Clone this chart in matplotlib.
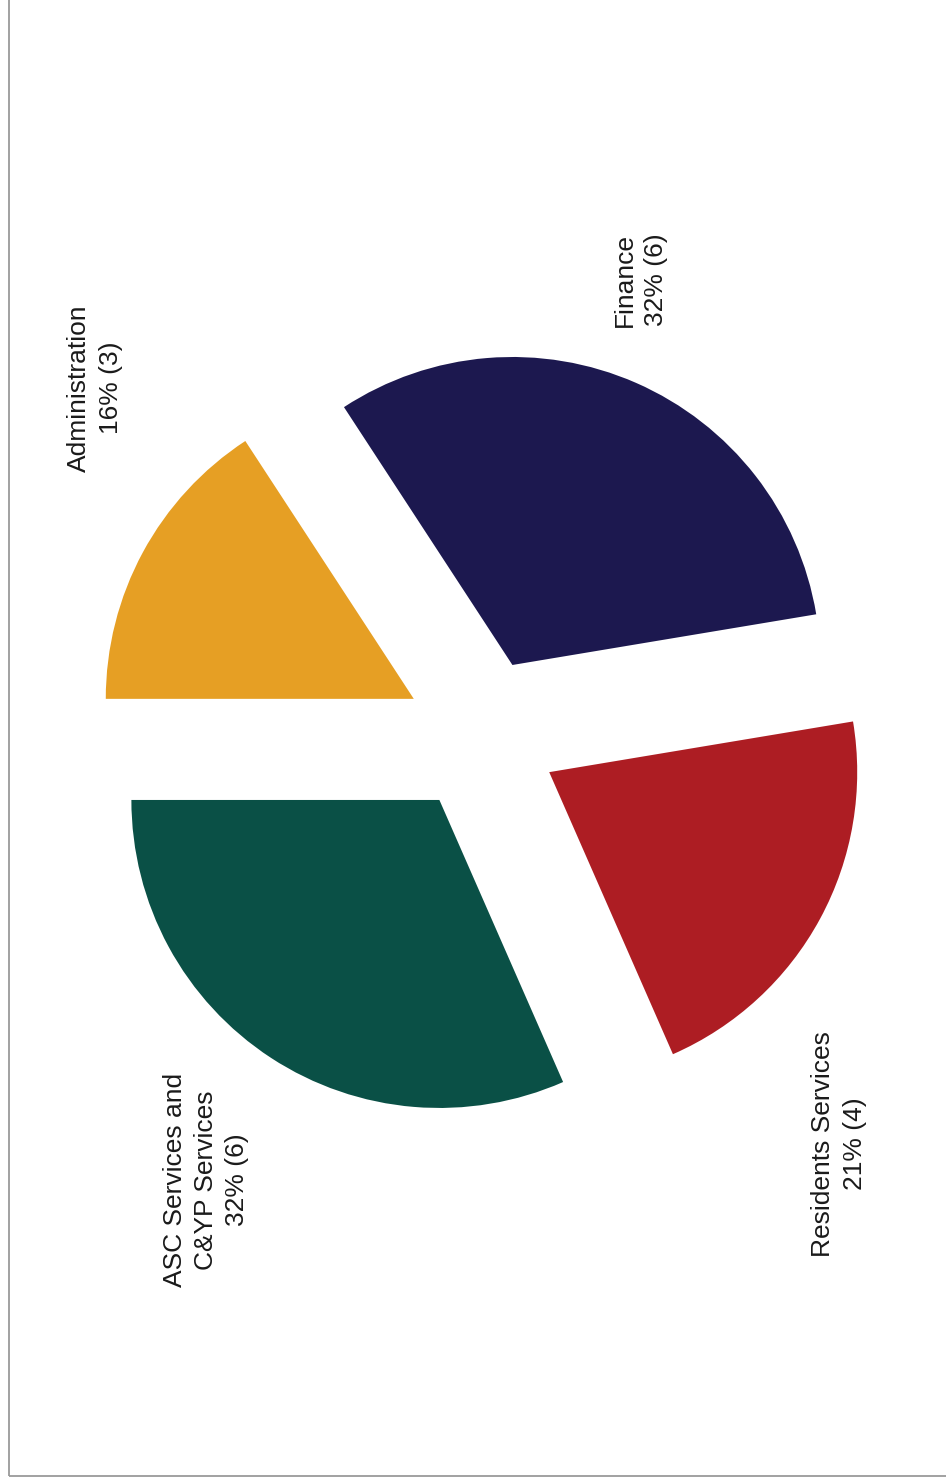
import matplotlib
matplotlib.use("Agg")
import matplotlib.pyplot as plt
from matplotlib.patches import Rectangle

categories = ["Administration", "Finance", "Residents Services", "ASC Services and\nC&YP Services"]
counts = [3, 6, 4, 6]
colors = ["#E69F24", "#1C184F", "#AD1D23", "#0A5046"]

W, H, DPI = 946, 1478, 100
fig = plt.figure(figsize=(W / DPI, H / DPI), dpi=DPI)
ax = fig.add_axes([0, 0, 1, 1])

R_PX = 308.0
cx, cy = 481.5, 742.5  # pie centre in pixels from bottom-left

ax.pie(counts, colors=colors, startangle=180, counterclock=False,
       explode=[0.25] * 4, radius=1.0, center=(0, 0),
       wedgeprops=dict(linewidth=0), frame=True)
ax.set_xlim(-cx / R_PX, (W - cx) / R_PX)
ax.set_ylim(-cy / R_PX, (H - cy) / R_PX)
ax.set_aspect("auto")
ax.axis("off")

total = sum(counts)
label_pos = [(-1.255, 1.128), (0.515, 1.479), (1.161, -1.326), (-0.894, -1.443)]
for cat, n, (lx, ly) in zip(categories, counts, label_pos):
    pct = round(100 * n / total)
    ax.text(lx, ly, f"{cat}\n{pct}% ({n})", rotation=90, ha="center", va="center",
            multialignment="center", fontsize=19, family="Liberation Sans",
            color="#1a1a1a", linespacing=1.38, rotation_mode="anchor")

# frame border
fig.patches.append(Rectangle((9 / W, 2.5 / H), 1.2, 1.2, transform=fig.transFigure,
                             fill=False, edgecolor="#9A9A9A", linewidth=1.3))

fig.savefig("out.png", dpi=DPI)
